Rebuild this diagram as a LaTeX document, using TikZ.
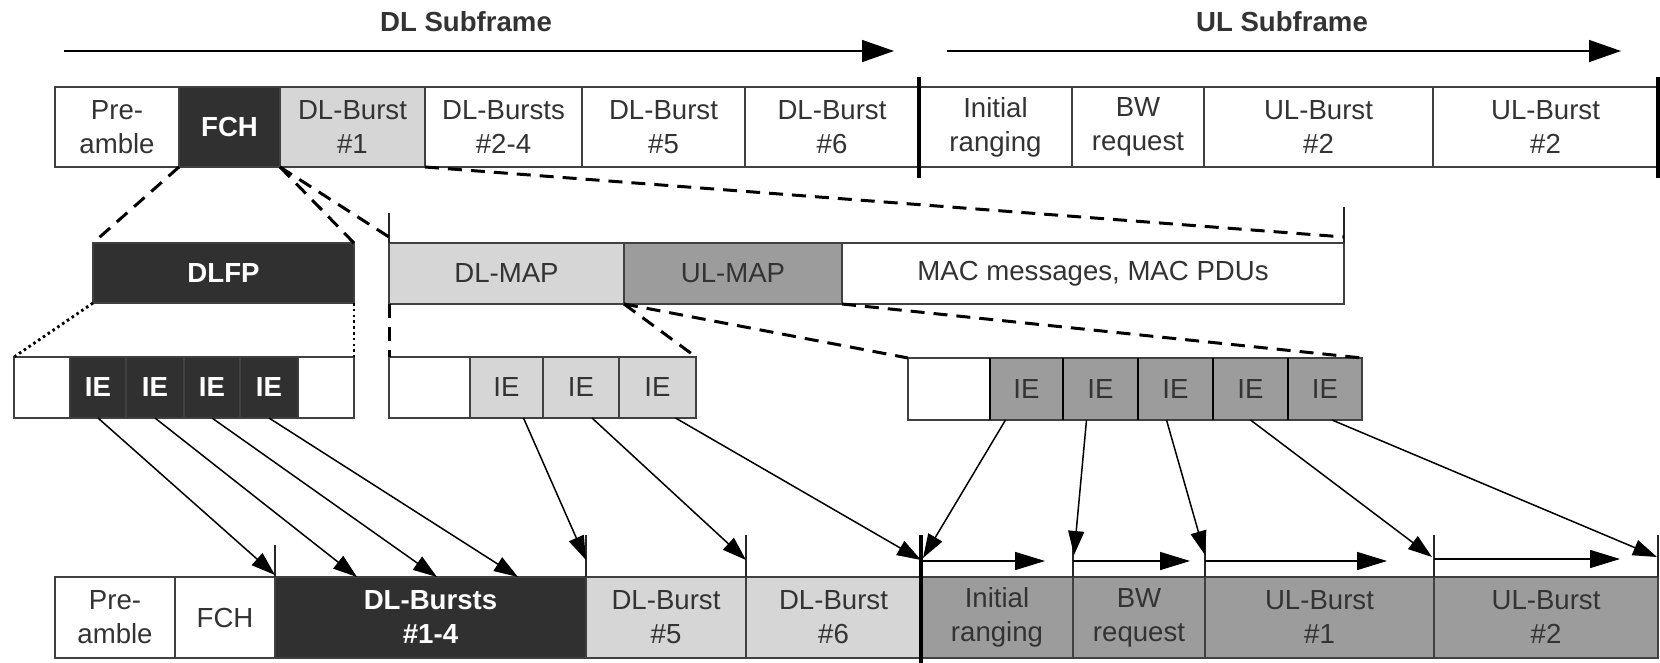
\documentclass[tikz,border=0pt]{standalone}
\usepackage{fontspec}
\setmainfont{Liberation Sans}
\usetikzlibrary{arrows.meta,calc}
\definecolor{dkc}{HTML}{303030}
\definecolor{ltc}{HTML}{D6D6D6}
\definecolor{mdc}{HTML}{9C9C9C}
\definecolor{txc}{HTML}{333333}
\newcommand{\cel}[7]{\node[cellb,#6,minimum width={(#3-#2)*0.5pt},minimum height={(#5-#4)*0.5pt}] (#1) at ({(#2+#3)/2},{(#4+#5)/2}) {#7};}
\tikzset{
  cellb/.style={draw=black!75, line width=0.6pt, inner sep=0pt, outer sep=0pt, align=center,
    font=\fontsize{13.8}{17}\selectfont, text=txc},
  dk/.style={fill=dkc, text=white, font=\fontsize{13.8}{17}\selectfont\bfseries},
  lt/.style={fill=ltc},
  md/.style={fill=mdc},
  wh/.style={fill=white},
  dsh/.style={line width=1.5pt, dash pattern=on 7pt off 4.5pt},
  dotln/.style={line width=1.4pt, dash pattern=on 1.3pt off 1.6pt},
  arr/.style={line width=0.75pt, -{Triangle[length=12pt,width=8pt]}},
  bigarr/.style={line width=0.75pt, -{Triangle[length=16pt,width=11pt]}},
  smarr/.style={line width=0.75pt, -{Triangle[length=15pt,width=9pt]}},
  tk/.style={line width=0.6pt, draw=black!85},
  thk/.style={line width=1.7pt},
  lbl/.style={font=\fontsize{13.8}{16}\selectfont\bfseries, text=txc}
}
\begin{document}
\begin{tikzpicture}[x=0.5pt,y=-0.5pt]
\useasboundingbox (0,0) rectangle (1660,663);
% headers
\node[lbl] (dlt) at (466,22) {DL Subframe};
\node[lbl] (ult) at (1282,22) {UL Subframe};
\coordinate (dla) at (64,51); \coordinate (dlb) at (894,51);
\coordinate (ula) at (947,51); \coordinate (ulb) at (1621,51);
\draw[bigarr] (dla) -- (dlb);
\draw[bigarr] (ula) -- (ulb);
% row 1
\cel{p1}{55}{179}{87}{167}{wh}{Pre-\\amble}
\cel{f1}{179}{280}{87}{167}{dk}{FCH}
\cel{b1}{280}{425}{87}{167}{lt}{DL-Burst\\\#1}
\cel{b24}{425}{582}{87}{167}{wh}{DL-Bursts\\\#2-4}
\cel{b5}{582}{745}{87}{167}{wh}{DL-Burst\\\#5}
\cel{b6}{745}{919}{87}{167}{wh}{DL-Burst\\\#6}
\cel{ir}{919}{1072}{87}{167}{wh}{Initial\\ranging}
\cel{bw}{1072}{1204}{87}{167}{wh}{BW\\request}
\cel{ua}{1204}{1433}{87}{167}{wh}{UL-Burst\\\#2}
\cel{ub}{1433}{1658}{87}{167}{wh}{UL-Burst\\\#2}
\draw[thk] ($(ir.north west)+(0,-10)$) -- ($(ir.south west)+(0,11)$);
\draw[thk] ($(ub.north east)+(0,-10)$) -- ($(ub.south east)+(0,11)$);
% row 2
\cel{dlfp}{93}{354}{243}{303}{dk}{DLFP}
\cel{dlmap}{389}{624}{243}{304}{lt}{DL-MAP}
\cel{ulmap}{624}{842}{243}{304}{md}{UL-MAP}
\cel{mac}{842}{1344}{243}{304}{wh}{MAC messages, MAC PDUs}
\draw[tk] (dlmap.north west) -- ++(0,-30) coordinate (t1);
\draw[tk] (mac.north east) -- ++(0,-36) coordinate (t2);
\coordinate (t1e) at ($(dlmap.north west)+(0,-6)$);
\coordinate (t2e) at ($(mac.north east)+(0,-6)$);
% row 3
\cel{w0}{14}{70}{357}{418}{wh}{}
\cel{ie1}{70}{126}{357}{418}{dk}{IE}
\cel{ie2}{126}{184}{357}{418}{dk}{IE}
\cel{ie3}{184}{240}{357}{418}{dk}{IE}
\cel{ie4}{240}{298}{357}{418}{dk}{IE}
\cel{w5}{298}{354}{357}{418}{wh}{}
\cel{dw}{389}{470}{357}{418}{wh}{}
\cel{dm1}{470}{543}{357}{418}{lt}{IE}
\cel{dm2}{543}{619}{357}{418}{lt}{IE}
\cel{dm3}{619}{696}{357}{418}{lt}{IE}
\cel{uw}{908}{990}{358}{420}{wh}{}
\cel{um1}{990}{1063}{358}{420}{md}{IE}
\cel{um2}{1063}{1138}{358}{420}{md}{IE}
\cel{um3}{1138}{1213}{358}{420}{md}{IE}
\cel{um4}{1213}{1288}{358}{420}{md}{IE}
\cel{um5}{1288}{1362}{358}{420}{md}{IE}
\foreach \c in {um1,um2,um3,um4,um5} \draw[line width=1.4pt] (\c.north west) -- (\c.south west);
% row 4
\cel{q1}{55}{175}{577}{658}{wh}{Pre-\\amble}
\cel{q2}{175}{275}{577}{658}{wh}{FCH}
\cel{q3}{275}{586}{577}{658}{dk}{DL-Bursts\\\#1-4}
\cel{q4}{586}{746}{577}{658}{lt}{DL-Burst\\\#5}
\cel{q5}{746}{921}{577}{658}{lt}{DL-Burst\\\#6}
\cel{q6}{921}{1073}{577}{658}{md}{Initial\\ranging}
\cel{q7}{1073}{1205}{577}{658}{md}{BW\\request}
\cel{q8}{1205}{1434}{577}{658}{md}{UL-Burst\\\#1}
\cel{q9}{1434}{1658}{577}{658}{md}{UL-Burst\\\#2}
\draw[thk] ($(q6.north west)+(0,-42)$) -- ($(q6.south west)+(0,6)$);
\draw[tk] (q3.north west) -- ++(0,-32);
\draw[tk] (q4.north west) -- ++(0,-42);
\draw[tk] (q5.north west) -- ++(0,-42);
\draw[tk] (q7.north west) -- ++(0,-30);
\draw[tk] (q8.north west) -- ++(0,-47);
\draw[tk] (q9.north west) -- ++(0,-42);
\draw[tk] (q9.north east) -- ++(0,-42);
% small UL arrows
\coordinate (s1) at ($(q6.north west)+(0,-16)$); \coordinate (s1e) at (1045,561);
\coordinate (s2) at ($(q7.north west)+(0,-16)$); \coordinate (s2e) at (1190,561);
\coordinate (s3) at ($(q8.north west)+(0,-16)$); \coordinate (s3e) at (1387,561);
\coordinate (s4) at ($(q9.north west)+(0,-18)$); \coordinate (s4e) at (1620,559);
\draw[smarr] (s1) -- (s1e);
\draw[smarr] (s2) -- (s2e);
\draw[smarr] (s3) -- (s3e);
\draw[smarr] (s4) -- (s4e);
% dashed expansions
\draw[dsh] (f1.south west) -- (dlfp.north west);
\draw[dsh] (f1.south east) -- (dlfp.north east);
\draw[dsh] (f1.south east) -- (t1e);
\draw[dsh] (b1.south east) -- (t2e);
\draw[dsh] (dlmap.south west) -- (dw.north west);
\draw[dsh] (dlmap.south east) -- (dm3.north east);
\draw[dsh] (ulmap.south west) -- (uw.north west);
\draw[dsh] (ulmap.south east) -- (um5.north east);
\draw[dotln] (dlfp.south west) -- (w0.north west);
\draw[dotln] (dlfp.south east) -- (w5.north east);
% arrows DLFP
\coordinate (a1) at ($(q3.north west)+(0,-2)$);
\coordinate (a2) at (357,577);
\coordinate (a3) at (437,577);
\coordinate (a4) at (518,577);
\draw[arr] (ie1.south) -- (a1);
\draw[arr] (ie2.south) -- (a2);
\draw[arr] (ie3.south) -- (a3);
\draw[arr] (ie4.south) -- (a4);
% arrows DL-MAP
\coordinate (d1) at ($(q4.north west)+(0,-17)$);
\coordinate (d2) at ($(q5.north west)+(0,-17)$);
\coordinate (d3) at ($(q6.north west)+(0,-17)$);
\draw[arr] ($(dm1.south)+(17,0)$) -- (d1);
\draw[arr] ($(dm2.south)+(11,0)$) -- (d2);
\draw[arr] ($(dm3.south)+(18,0)$) -- (d3);
% arrows UL-MAP
\coordinate (u1) at ($(q6.north west)+(2,-19)$);
\coordinate (u2) at ($(q7.north west)+(1,-22)$);
\coordinate (u3) at ($(q8.north west)+(0,-22)$);
\coordinate (u4) at ($(q9.north west)+(-2,-20)$);
\coordinate (u5) at ($(q9.north east)+(-1,-20)$);
\draw[arr] ($(um1.south)+(-21,0)$) -- (u1);
\draw[arr] ($(um2.south)+(-14,0)$) -- (u2);
\draw[arr] ($(um3.south)+(-9,0)$) -- (u3);
\draw[arr] (um4.south) -- (u4);
\draw[arr] ($(um5.south)+(7,0)$) -- (u5);
\end{tikzpicture}
\end{document}
